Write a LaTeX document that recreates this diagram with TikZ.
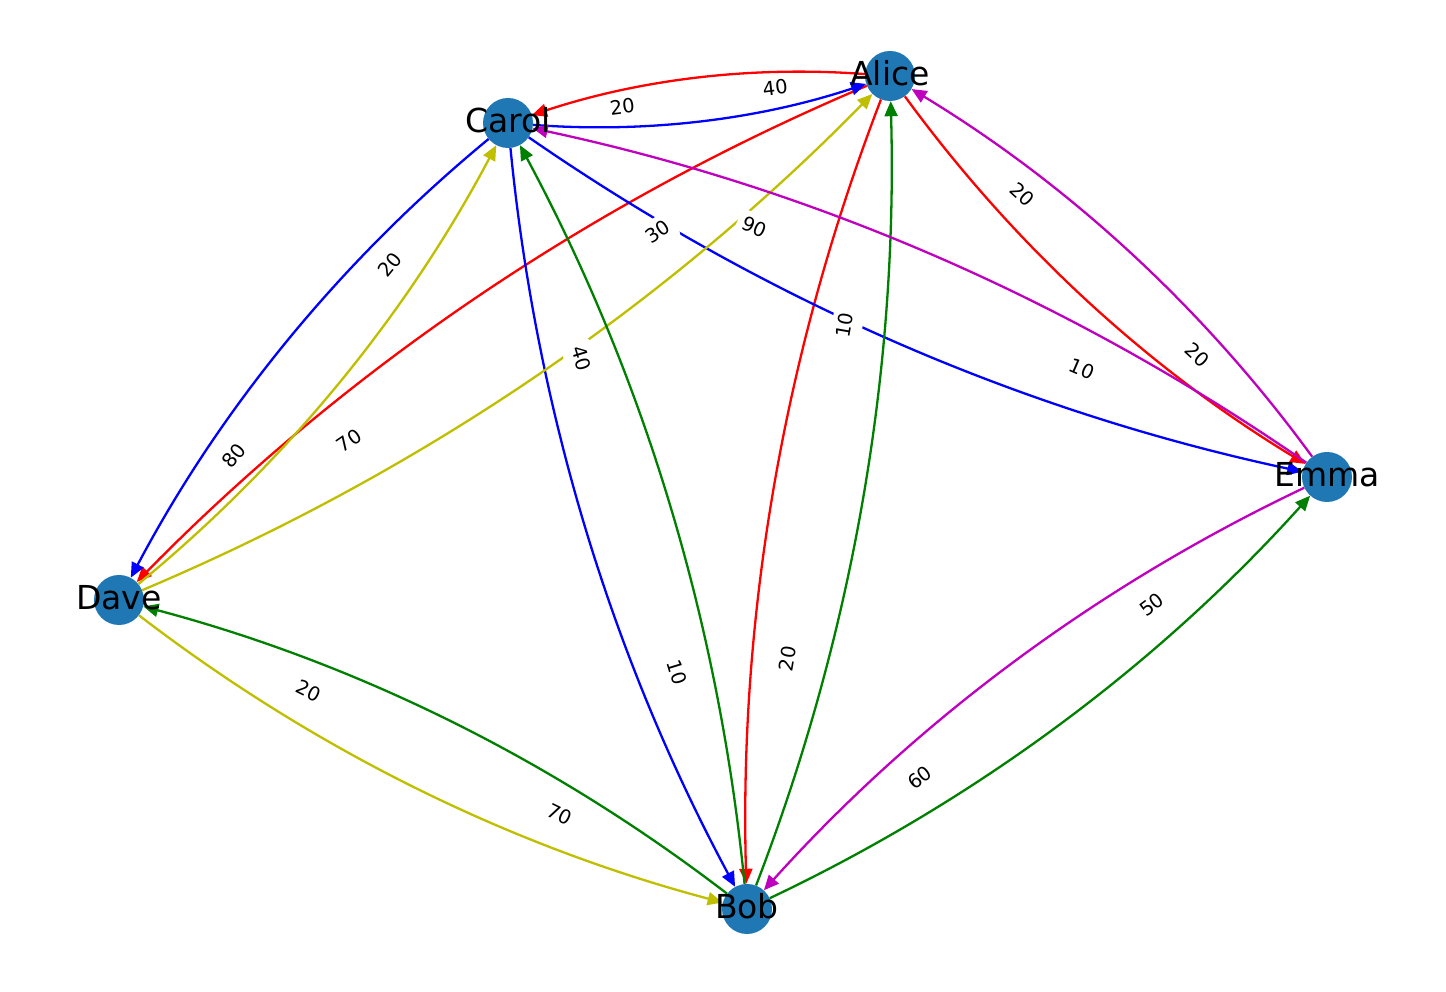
\documentclass[tikz,border=0pt]{standalone}
\usepackage{fontspec}
\setmainfont{DejaVu Sans}
\usetikzlibrary{arrows.meta}
\definecolor{nodeblue}{HTML}{1F77B4}
\definecolor{ycol}{rgb}{0.75,0.75,0}
\definecolor{mcol}{rgb}{0.75,0,0.75}
\definecolor{gcol}{rgb}{0,0.5,0}
\begin{document}
\begin{tikzpicture}[x=1pt,y=1pt,
  vertex/.style={circle, fill=nodeblue, minimum size=50pt, inner sep=0pt},
  vlabel/.style={font=\fontsize{33}{33}\selectfont, text height=25pt, text depth=6.6pt, inner sep=0pt},
  link/.style={line width=2.3pt, -{Triangle[length=15pt,width=13pt]}, bend right=11.31, looseness=0.868},
  wlabel/.style={sloped, fill=white, rounded corners=5pt, font=\fontsize{19.5}{19.5}\selectfont, text height=14.5pt, text depth=4.6pt, inner xsep=5.8pt, inner ysep=5.8pt}
]
\path[use as bounding box, fill=white] (0,0) rectangle (1446,992);

% vertices
\node[vertex] (Alice) at (890,916) {};
\node[vertex] (Carol) at (508,869) {};
\node[vertex] (Emma)  at (1327,515) {};
\node[vertex] (Dave)  at (119,392) {};
\node[vertex] (Bob)   at (747,83) {};

% edges from Alice (red)
\draw[link, red] (Alice) to (Carol);
\draw[link, red] (Alice) to (Dave);
\draw[link, red] (Alice) to (Bob);
\draw[link, red] (Alice) to (Emma);
% edges from Carol (blue)
\draw[link, blue] (Carol) to (Alice);
\draw[link, blue] (Carol) to (Dave);
\draw[link, blue] (Carol) to (Bob);
\draw[link, blue] (Carol) to (Emma);
% edges from Dave (yellow)
\draw[link, ycol] (Dave) to (Carol);
\draw[link, ycol] (Dave) to (Alice);
\draw[link, ycol] (Dave) to (Bob);
% edges from Bob (green)
\draw[link, gcol] (Bob) to (Alice);
\draw[link, gcol] (Bob) to (Carol);
\draw[link, gcol] (Bob) to (Dave);
\draw[link, gcol] (Bob) to (Emma);
% edges from Emma (magenta)
\draw[link, mcol] (Emma) to (Alice);
\draw[link, mcol] (Emma) to (Carol);
\draw[link, mcol] (Emma) to (Bob);

% vertex names
\node[vlabel] (AliceT) at (Alice.center) {Alice};
\node[vlabel] (CarolT) at (Carol.center) {Carol};
\node[vlabel] (EmmaT)  at (Emma.center)  {Emma};
\node[vlabel] (DaveT)  at (Dave.center)  {Dave};
\node[vlabel] (BobT)   at (Bob.center)   {Bob};

% edge labels
\path (Alice.center) -- node[wlabel, pos=0.3] (l1) {40} node[wlabel, pos=0.7] (l2) {20} (Carol.center);
\path (Alice.center) -- node[wlabel, pos=0.3] (l3) {30} node[wlabel, pos=0.7] (l4) {70} (Dave.center);
\path (Alice.center) -- node[wlabel, pos=0.3] (l5) {20} node[wlabel, pos=0.7] (l6) {20} (Emma.center);
\path (Alice.center) -- node[wlabel, pos=0.3] (l7) {10} node[wlabel, pos=0.7] (l8) {20} (Bob.center);
\path (Carol.center) -- node[wlabel, pos=0.3] (l9) {20} node[wlabel, pos=0.7] (l10) {80} (Dave.center);
\path (Carol.center) -- node[wlabel, pos=0.3] (l11) {90} node[wlabel, pos=0.7] (l12) {10} (Emma.center);
\path (Carol.center) -- node[wlabel, pos=0.3] (l13) {40} node[wlabel, pos=0.7] (l14) {10} (Bob.center);
\path (Dave.center) -- node[wlabel, pos=0.3] (l15) {20} node[wlabel, pos=0.7] (l16) {70} (Bob.center);
\path (Bob.center) -- node[wlabel, pos=0.3] (l17) {60} node[wlabel, pos=0.7] (l18) {50} (Emma.center);
\end{tikzpicture}
\end{document}
